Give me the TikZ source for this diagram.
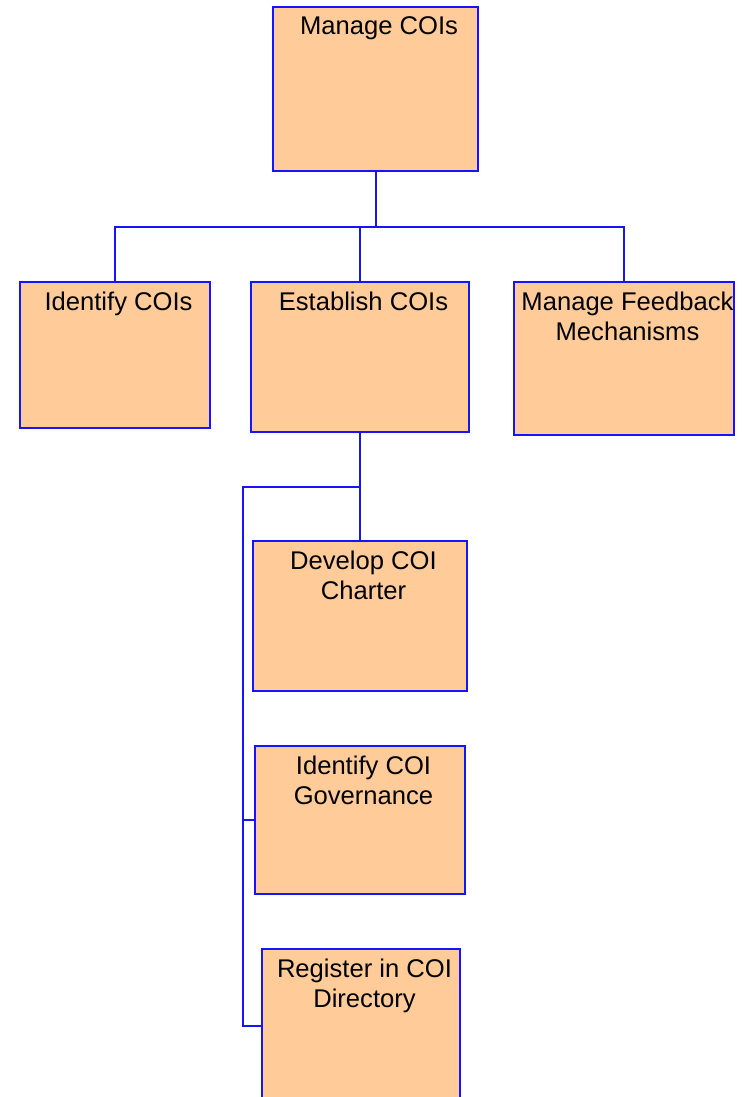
\documentclass[tikz,border=0pt]{standalone}
\usepackage{fontspec}
\setmainfont{Liberation Sans}
\definecolor{peach}{HTML}{FFCC99}
\definecolor{lineblue}{HTML}{1414FF}

\begin{document}
\begin{tikzpicture}[x=0.5pt,y=-0.5pt,
  box/.style={draw=lineblue,line width=1pt,fill=peach,inner sep=0pt},
  txt/.style={anchor=north,inner sep=0pt,align=center,yshift=-5.3pt,xshift=1.75pt,
    font={\fontsize{12.8pt}{15pt}\selectfont}},
  link/.style={draw=lineblue,line width=1pt}]
\useasboundingbox[fill=white] (0,0) rectangle (743,1097);
% top box
\node[box,minimum width=102.5pt,minimum height=82pt] (root) at (375.5,89) {};
% second row
\node[box,minimum width=95pt,minimum height=73pt] (ident) at (115,354.5) {};
\node[box,minimum width=109pt,minimum height=75pt] (estab) at (360,356.5) {};
\node[box,minimum width=110pt,minimum height=76.5pt] (feed) at (624,358.5) {};
% under Establish COIs
\node[box,minimum width=107pt,minimum height=75pt] (charter) at (360,616) {};
\node[box,minimum width=105pt,minimum height=74pt] (gov) at (360,820) {};
\node[box,minimum width=99pt,minimum height=77pt] (reg) at (361,1026) {};
% texts
\node[txt] (root-t) at (root.north) {Manage COIs};
\node[txt] (ident-t) at (ident.north) {Identify COIs};
\node[txt] (estab-t) at (estab.north) {Establish COIs};
\node[txt] (feed-t) at (feed.north) {Manage Feedback\\Mechanisms};
\node[txt] (charter-t) at (charter.north) {Develop COI\\Charter};
\node[txt] (gov-t) at (gov.north) {Identify COI\\Governance};
\node[txt] (reg-t) at (reg.north) {Register in COI\\Directory};
% connectors
\coordinate (bar) at (0,227);
\coordinate (spine) at (243,487);
\draw[link] (root.south) -- (root.south |- bar);
\draw[link] (ident.north) |- (feed.north |- bar) -- (feed.north);
\draw[link] (estab.north) -- (estab.north |- bar);
\draw[link] (estab.south) -- (charter.north);
\draw[link] (estab.south |- spine) -- (spine) |- (reg.west);
\draw[link] (spine |- gov.west) -- (gov.west);
\end{tikzpicture}
\end{document}
